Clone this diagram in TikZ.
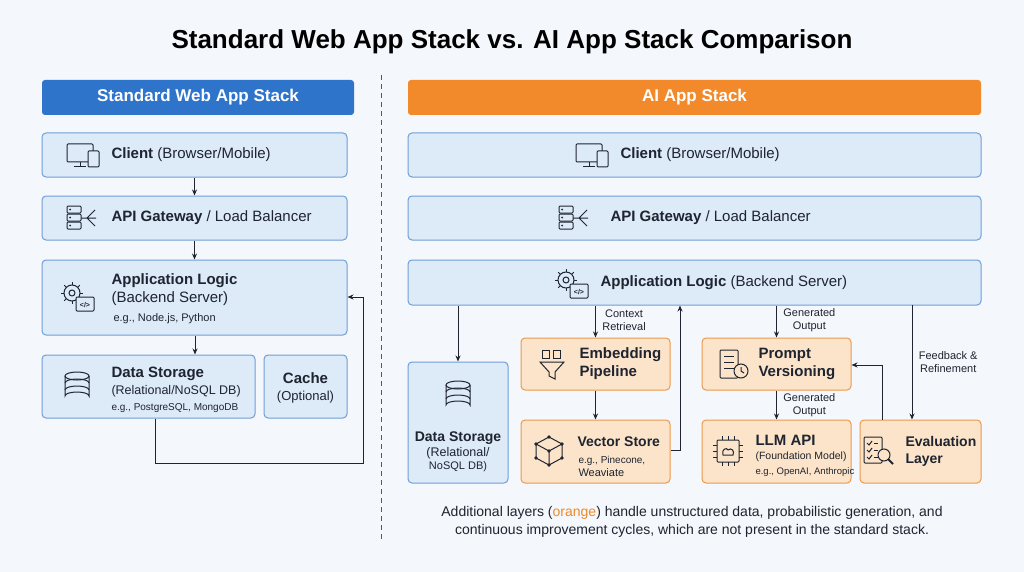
\documentclass[tikz,border=0pt]{standalone}
\usepackage{fontspec}
\setmainfont{Liberation Sans}
\usetikzlibrary{arrows.meta}
\definecolor{bg}{HTML}{F4F7FB}
\definecolor{hblue}{HTML}{2F74CB}
\definecolor{horange}{HTML}{F28A2B}
\definecolor{bfill}{HTML}{DDEAF8}
\definecolor{bline}{HTML}{6F9FD6}
\definecolor{ofill}{HTML}{FCE4CA}
\definecolor{oline}{HTML}{EA9A4E}
\definecolor{ink}{HTML}{1E2430}
\definecolor{otext}{HTML}{EE8A2A}
\tikzset{
 x=1pt,y=-1pt,
 bbox/.style={draw=bline,fill=bfill,rounded corners=4pt,line width=1pt},
 obox/.style={draw=oline,fill=ofill,rounded corners=4pt,line width=1pt},
 hdr/.style={rounded corners=3pt,text=white,font=\bfseries\fontsize{17}{20}\selectfont},
 lbl/.style={font=\fontsize{15}{18}\selectfont,text=ink,align=center},
 sml/.style={font=\fontsize{11}{13}\selectfont,text=ink,align=center},
 arr/.style={-{Stealth[length=6pt,width=5pt]},line width=1pt,draw=ink},
 ico/.style={draw=ink,line width=1pt,fill=none},
 pics/db/.style={code={
   \draw[ico] (-12,-10) -- (-12,10) arc[start angle=180,end angle=360,x radius=12,y radius=4] -- (12,-10);
   \draw[ico] (0,-10) ellipse[x radius=12,y radius=4];
   \draw[ico] (-12,-3) arc[start angle=180,end angle=360,x radius=12,y radius=4];
   \draw[ico] (-12,4) arc[start angle=180,end angle=360,x radius=12,y radius=4];}},
 pics/client/.style={code={
   \draw[ico,rounded corners=1pt] (-16,-11) rectangle (10,7);
   \draw[ico] (-3,7)--(-3,12) (-9,12)--(3,12);
   \draw[ico,fill=bfill,rounded corners=1pt] (5,-4) rectangle (16,12);}},
 pics/server/.style={code={
   \foreach \y in {-12,-4,4} {\draw[ico,rounded corners=1pt] (-16,\y) rectangle (-2,\y+7);
     \fill[ink] (-13,\y+3.5) circle (1);}
   \draw[ico] (-2,0)--(4,0) (4,0)--(12,-8) (4,0)--(13,0) (4,0)--(12,8);}},
 pics/gear/.style={code={
   \draw[ico] (-6,-4) circle (8); \draw[ico] (-6,-4) circle (3);
   \foreach \a in {0,45,...,315} \draw[ico] (-6,-4)++(\a:8)--++(\a:3);
   \draw[ico,fill=bfill,rounded corners=1pt] (-2,0) rectangle (16,14);
   \node[font=\fontsize{7}{7}\selectfont\bfseries,text=ink] at (7,8) {</>};}},
 pics/funnel/.style={code={
   \draw[ico] (-12,-2)--(12,-2)--(3,8)--(3,15)--(-3,12)--(-3,8)--cycle;
   \draw[ico] (-10,-14) rectangle (-3,-6); \draw[ico] (1,-14) rectangle (8,-6);}},
 pics/cube/.style={code={
   \draw[ico] (0,-14)--(13,-7)--(13,7)--(0,14)--(-13,7)--(-13,-7)--cycle;
   \draw[ico] (-13,-7)--(0,0)--(13,-7) (0,0)--(0,14);
   \foreach \p in {(0,-14),(13,-7),(13,7),(0,14),(-13,7),(-13,-7),(0,0)} \fill[ink] \p circle (1.8);}},
 pics/doc/.style={code={
   \draw[ico,rounded corners=1pt] (-13,-14) rectangle (5,14);
   \foreach \y in {-8,-2,4} \draw[ico] (-9,\y)--(1,\y);
   \draw[ico,fill=ofill] (8,7) circle (7); \draw[ico] (8,3)--(8,7)--(11,9);}},
 pics/chip/.style={code={
   \draw[ico,rounded corners=1pt] (-11,-11) rectangle (11,11);
   \foreach \t in {-6,0,6} {\draw[ico] (\t,-11)--(\t,-15) (\t,11)--(\t,15) (-11,\t)--(-15,\t) (11,\t)--(15,\t);}
   \draw[ico] (-5,4) .. controls (-7,-2) and (-1,-4) .. (0,-1) .. controls (3,-4) and (7,0) .. (5,4) -- cycle;}},
 pics/check/.style={code={
   \draw[ico,rounded corners=1pt] (-14,-14) rectangle (4,12);
   \foreach \y in {-8,-1,6} {\draw[ico] (-11,\y)--(-9,\y+2)--(-6,\y-2); \draw[ico] (-4,\y)--(0,\y);}
   \draw[ico,fill=ofill] (6,4) circle (6); \draw[ico,line width=2pt] (10,8)--(15,13);}},
}
\begin{document}
\begin{tikzpicture}
\fill[bg] (0,0) rectangle (1024,572);
\useasboundingbox (0,0) rectangle (1024,572);
\node[font=\bfseries\fontsize{26}{30}\selectfont,text=black] (title) at (512,42) {Standard Web App Stack vs. AI App Stack Comparison};
\draw[dash pattern=on 5pt off 4pt,draw=gray!70!black,line width=0.8pt] (381,75)--(381,540);
% headers
\node[hdr,fill=hblue,minimum width=312,minimum height=35] (hl) at (198,97.5) {Standard Web App Stack};
\node[hdr,fill=horange,minimum width=573,minimum height=35] (hr) at (694.5,97.5) {AI App Stack};
% left
\node[bbox,minimum width=305,minimum height=44] (lc) at (194.5,155) {};
\pic at (83,155) {client};
\node[lbl,anchor=west] at (108,155) {\textbf{Client} (Browser/Mobile)};
\node[bbox,minimum width=305,minimum height=44] (la) at (194.5,218) {};
\pic at (83,218) {server};
\node[lbl,anchor=west] at (108,218) {\textbf{API Gateway} / Load Balancer};
\node[bbox,minimum width=305,minimum height=75] (lapp) at (194.5,297.5) {};
\pic at (78,297) {gear};
\node[lbl,anchor=west,align=left] at (108,290) {\textbf{Application Logic}\\(Backend Server)};
\node[sml,anchor=west] at (110,319) {e.g., Node.js, Python};
\node[bbox,minimum width=213,minimum height=63] (lds) at (148.5,386.5) {};
\pic at (77,386) {db};
\node[lbl,anchor=west,align=left] at (108,374) {\textbf{Data Storage}};
\node[sml,anchor=west,align=left] at (108,391) {\fontsize{12.5}{14}\selectfont(Relational/NoSQL DB)};
\node[sml,anchor=west] at (108,408) {\fontsize{10}{12}\selectfont e.g., PostgreSQL, MongoDB};
\node[bbox,minimum width=83,minimum height=63] (lcache) at (305.5,386.5) {};
\node[lbl] at (305.5,378) {\textbf{Cache}};
\node[sml] at (305.5,397) {\fontsize{13}{15}\selectfont(Optional)};
\draw[arr] (lc.south) -- (la.north);
\draw[arr] (la.south) -- (lapp.north);
\draw[arr] (lapp.south -| lds.north) ++(46.5,0) coordinate (t1) -- (t1 |- lds.north);
\coordinate (f1) at (155,463); \coordinate (f2) at (363,463); \coordinate (f3) at (363,297);
\draw[arr] (lds.south -| f1) -- (f1) -- (f2) -- (f3) -- (f3 -| lapp.east);
% right
\node[bbox,minimum width=573,minimum height=44] (rc) at (694.5,155) {};
\pic at (592,155) {client};
\node[lbl,anchor=west] at (617,155) {\textbf{Client} (Browser/Mobile)};
\node[bbox,minimum width=573,minimum height=44] (ra) at (694.5,218) {};
\pic at (575,218) {server};
\node[lbl,anchor=west] at (607,218) {\textbf{API Gateway} / Load Balancer};
\node[bbox,minimum width=573,minimum height=45] (rapp) at (694.5,282.5) {};
\pic at (572,284) {gear};
\node[lbl,anchor=west] at (597,282.5) {\textbf{Application Logic} (Backend Server)};
\node[bbox,minimum width=100,minimum height=121] (rds) at (458,422.5) {};
\pic at (458,395) {db};
\node[lbl,font=\fontsize{14}{17}\selectfont] at (458,438) {\textbf{Data Storage}};
\node[sml] at (458,460) {\fontsize{12.5}{15}\selectfont(Relational/\\NoSQL DB)};
\node[obox,minimum width=149,minimum height=52] (emb) at (595.5,364) {};
\pic at (552,364) {funnel};
\node[lbl,anchor=west,align=left] at (576,364) {\textbf{Embedding}\\\textbf{Pipeline}};
\node[obox,minimum width=149,minimum height=63] (vs) at (595.5,451.5) {};
\pic at (549,451) {cube};
\node[lbl,anchor=west,font=\fontsize{14}{17}\selectfont] at (574,442) {\textbf{Vector Store}};
\node[sml,anchor=west,align=left] at (575,466) {\fontsize{10}{12}\selectfont e.g., Pinecone,\\Weaviate};
\node[obox,minimum width=149,minimum height=52] (pv) at (776.5,364) {};
\pic at (733,364) {doc};
\node[lbl,anchor=west,align=left] at (755,364) {\textbf{Prompt}\\\textbf{Versioning}};
\node[obox,minimum width=149,minimum height=63] (llm) at (776.5,451.5) {};
\pic at (728,451) {chip};
\node[lbl,anchor=west] at (752,440) {\textbf{LLM API}};
\node[sml,anchor=west,align=left] at (752,457) {\fontsize{10.5}{13}\selectfont(Foundation Model)};
\node[sml,anchor=west,align=left] at (752,472) {\fontsize{9.5}{12}\selectfont e.g., OpenAI, Anthropic};
\node[obox,minimum width=121,minimum height=63] (ev) at (920.5,451.5) {};
\pic at (878,451) {check};
\node[lbl,anchor=west,align=left,font=\fontsize{14}{17}\selectfont] at (902,451) {\textbf{Evaluation}\\\textbf{Layer}};
% right arrows
\draw[arr] (rapp.south -| rds.north) -- (rds.north);
\draw[arr] (rapp.south -| emb.north) -- node[sml,right=3pt,pos=0.45]{Context\\Retrieval} (emb.north);
\draw[arr] (emb.south) -- (vs.north);
\coordinate (v1) at (680,450);
\draw[arr] (vs.east |- v1) -- (v1) -- (v1 |- rapp.south);
\draw[arr] (rapp.south -| pv.north) -- node[sml,right=3pt,pos=0.45]{Generated\\Output} (pv.north);
\draw[arr] (pv.south) -- node[sml,right=3pt]{Generated\\Output} (llm.north);
\coordinate (e1) at (882,365);
\draw[arr] (ev.north -| e1) -- (e1) -- (e1 -| pv.east);
\coordinate (e2) at (912,305);
\draw[arr] (e2) -- node[sml,right=3pt,pos=0.5]{Feedback \&\\Refinement} (e2 |- ev.north);
% note
\node[font=\fontsize{14}{18}\selectfont,text=ink,align=center] (note) at (692,522) {Additional layers (\textcolor{otext}{orange}) handle unstructured data, probabilistic generation, and\\continuous improvement cycles, which are not present in the standard stack.};
\end{tikzpicture}
\end{document}
